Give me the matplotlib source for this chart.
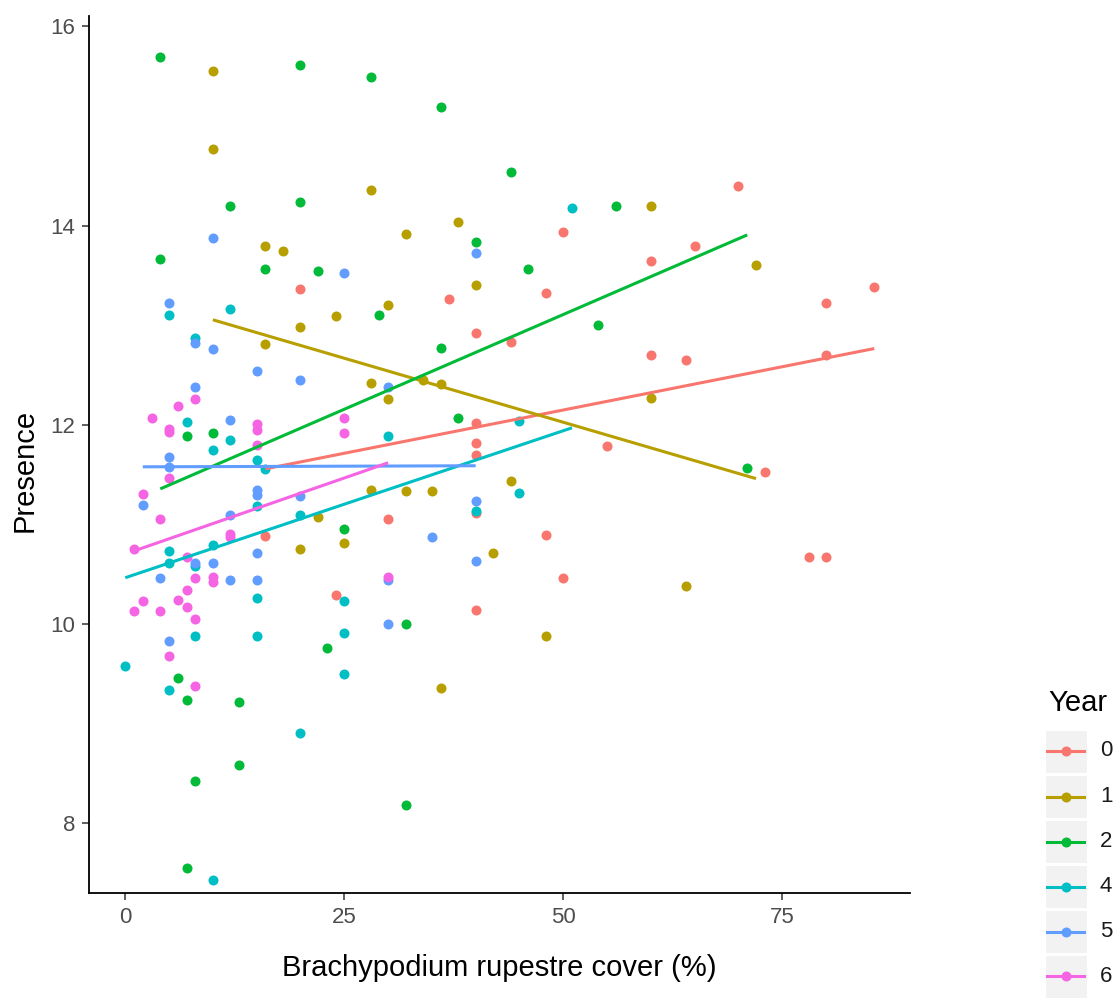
import numpy as np
import matplotlib
matplotlib.use("Agg")
import matplotlib.pyplot as plt
from matplotlib.patches import Rectangle
from matplotlib.lines import Line2D

# ---- data: Brachypodium rupestre cover (%) vs. presence, by year ----
years = ["0", "1", "2", "4", "5", "6"]
colors = ["#F8766D", "#B79F00", "#00BA38", "#00BFC4", "#619CFF", "#F564E3"]

cover_y0 = [16, 20, 24, 30, 37, 40, 40, 40, 40, 40, 40, 44, 48, 48, 50, 50, 55,
            60, 60, 64, 65, 70, 73, 78, 80, 80, 80, 85.5]
pres_y0 = [10.88, 13.36, 10.29, 11.05, 13.26, 12.92, 12.02, 11.82, 11.70, 11.11,
           10.14, 12.83, 13.32, 10.89, 13.94, 10.46, 11.79, 13.64, 12.70, 12.65,
           13.80, 14.40, 11.53, 10.67, 13.22, 12.70, 10.67, 13.38]

cover_y1 = [10, 10, 16, 18, 16, 20, 20, 22, 24, 25, 28, 28, 28, 30, 30, 32, 32,
            34, 35, 36, 36, 38, 40, 42, 44, 48, 60, 60, 64, 72]
pres_y1 = [15.55, 14.77, 13.80, 13.74, 12.81, 12.98, 10.75, 11.07, 13.09, 10.81,
           14.36, 12.42, 11.34, 13.20, 12.26, 13.92, 11.33, 12.45, 11.33, 12.41,
           9.36, 14.04, 13.40, 10.71, 11.43, 9.88, 14.20, 12.27, 10.38, 13.60]

cover_y2 = [4, 4, 7, 6, 7, 7, 8, 10, 12, 13, 13, 16, 20, 20, 22, 23, 25, 28, 29,
            32, 32, 36, 36, 38, 40, 44, 46, 54, 56, 71]
pres_y2 = [15.69, 13.66, 11.89, 9.46, 9.24, 7.55, 8.42, 11.92, 14.20, 9.22, 8.58,
           13.56, 15.61, 14.24, 13.54, 9.76, 10.95, 15.49, 13.10, 10.00, 8.18,
           15.19, 12.77, 12.07, 13.84, 14.54, 13.56, 13.00, 14.20, 11.57]

cover_y4 = [0, 5, 5, 5, 5, 7, 8, 8, 8, 10, 10, 10, 12, 12, 15, 15, 15, 15, 16,
            20, 20, 25, 25, 25, 30, 40, 45, 45, 51]
pres_y4 = [9.58, 13.10, 10.73, 10.61, 9.34, 12.03, 12.87, 10.58, 9.88, 11.75,
           10.79, 7.43, 13.16, 11.85, 11.65, 11.18, 10.26, 9.88, 11.56, 11.09,
           8.90, 10.23, 9.91, 9.50, 11.89, 11.13, 12.04, 11.31, 14.18]

cover_y5 = [2, 4, 5, 5, 5, 5, 8, 8, 8, 10, 10, 10, 12, 12, 12, 15, 15, 15, 15,
            15, 20, 20, 25, 30, 30, 30, 35, 40, 40, 40]
pres_y5 = [11.19, 10.46, 13.22, 11.68, 11.58, 9.83, 12.82, 12.38, 10.61, 13.88,
           12.76, 10.61, 12.05, 11.09, 10.44, 12.54, 11.34, 11.29, 10.71, 10.44,
           12.45, 11.28, 13.52, 12.38, 10.44, 10.00, 10.87, 13.72, 11.23, 10.63]

cover_y6 = [1, 1, 2, 2, 3, 4, 4, 5, 5, 5, 5, 6, 6, 7, 7, 7, 8, 8, 8, 8, 10, 10,
            12, 12, 15, 15, 15, 25, 25, 30]
pres_y6 = [10.75, 10.13, 11.30, 10.23, 12.07, 11.05, 10.13, 11.96, 11.93, 11.46,
           9.68, 12.19, 10.24, 10.67, 10.34, 10.17, 12.26, 10.46, 10.05, 9.38,
           10.47, 10.42, 10.90, 10.87, 12.01, 11.95, 11.80, 12.07, 11.92, 10.47]

x_ticks = [0, 25, 50, 75]
y_ticks = [8, 10, 12, 14, 16]

covers = [cover_y0, cover_y1, cover_y2, cover_y4, cover_y5, cover_y6]
presences = [pres_y0, pres_y1, pres_y2, pres_y4, pres_y5, pres_y6]

font = "Liberation Sans"

W, H = 1120, 1001
fig = plt.figure(figsize=(W / 100, H / 100), dpi=100)
fig.patch.set_facecolor("white")

# panel placement in pixels
left_px, right_px, top_px, bottom_px = 89, 910, 16, 893
ax = fig.add_axes([left_px / W, (H - bottom_px) / H,
                   (right_px - left_px) / W, (bottom_px - top_px) / H])

# points, then per-year least-squares lines
for cx, py, col in zip(covers, presences, colors):
    ax.scatter(cx, py, s=52, color=col, linewidths=0, zorder=2)

for cx, py, col in zip(covers, presences, colors):
    cx = np.asarray(cx, float)
    py = np.asarray(py, float)
    slope, icpt = np.polyfit(cx, py, 1)
    xs = np.linspace(cx.min(), cx.max(), 80)
    ax.plot(xs, icpt + slope * xs, color=col, lw=2.2, solid_capstyle="butt", zorder=3)

ax.set_xlim(-4.14, 89.58)
ax.set_ylim(7.297, 16.105)
ax.set_xticks(x_ticks)
ax.set_yticks(y_ticks)
ax.set_xticklabels([str(t) for t in x_ticks])
ax.set_yticklabels([str(t) for t in y_ticks])

for side in ("top", "right"):
    ax.spines[side].set_visible(False)
for side in ("left", "bottom"):
    ax.spines[side].set_color("black")
    ax.spines[side].set_linewidth(1.3)

ax.tick_params(axis="both", length=5, width=1.1, color="#333333",
               labelcolor="#4D4D4D", labelsize=16, pad=5)
for lbl in ax.get_xticklabels() + ax.get_yticklabels():
    lbl.set_family(font)

ax.set_xlabel("Brachypodium rupestre cover (%)", family=font, fontsize=21,
              color="black", labelpad=19)
ax.set_ylabel("Presence", family=font, fontsize=21, color="black")
ax.yaxis.set_label_coords(-0.061, 0.482)

# ---- legend drawn on a pixel-space overlay ----
lg = fig.add_axes([0, 0, 1, 1], facecolor="none")
lg.set_xlim(0, W)
lg.set_ylim(H, 0)
lg.axis("off")

lg.text(1048, 703, "Year", family=font, fontsize=21, color="black",
        ha="left", va="center")
key_y = [751, 796.5, 841.5, 886.5, 931.5, 976]
for yk, col, lab in zip(key_y, colors, years):
    lg.add_patch(Rectangle((1045, yk - 21.5), 42, 43, facecolor="#F2F2F2",
                           edgecolor="white", linewidth=0.8))
    lg.add_line(Line2D([1047, 1084], [yk, yk], color=col, lw=2.2))
    lg.scatter([1065.5], [yk], s=52, color=col, linewidths=0, zorder=3)
    lg.text(1100, yk, lab, family=font, fontsize=16, color="#1A1A1A",
            ha="left", va="center")

fig.savefig("out.png", dpi=100)
